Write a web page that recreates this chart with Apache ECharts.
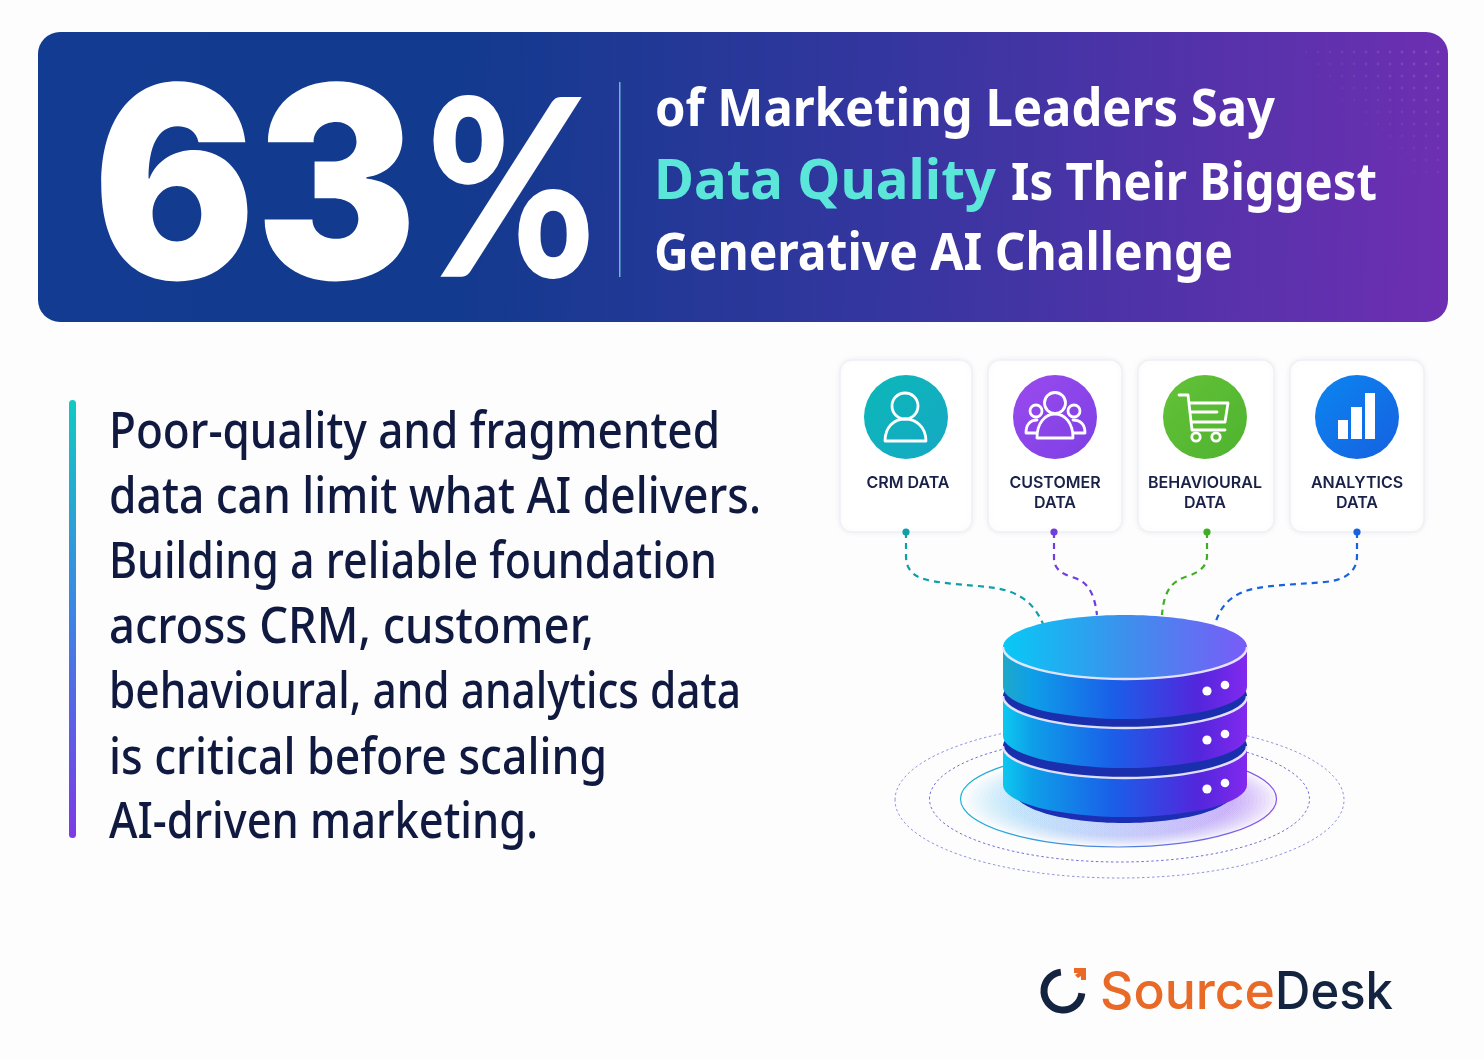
<!DOCTYPE html>
<html>
<head>
<meta charset="utf-8">
<title>Data Quality</title>
<style>
html,body{margin:0;padding:0;background:#fdfdfe;}
#main{width:1484px;height:1060px;}
</style>
<script src="https://cdn.jsdelivr.net/npm/echarts@6/dist/echarts.min.js"></script>
</head>
<body>
<div id="main"></div>
<script>
var statValue = 63;
var statUnit = '%';
var headlineTop = 'of Marketing Leaders Say';
var headlineAccent = 'Data Quality';
var headlineMiddle = 'Is Their Biggest';
var headlineBottom = 'Generative AI Challenge';
var bodyLines = [
    'Poor-quality and fragmented',
    'data can limit what AI delivers.',
    'Building a reliable foundation',
    'across CRM, customer,',
    'behavioural, and analytics data',
    'is critical before scaling',
    'AI-driven marketing.'
];
var sourceNames = [['CRM DATA'], ['CUSTOMER', 'DATA'], ['BEHAVIOURAL', 'DATA'], ['ANALYTICS', 'DATA']];
var logoLeft = 'Source';
var logoRight = 'Desk';

var NAVY = '#10193f';
var grad = echarts.graphic.LinearGradient;
var els = [];
var measure = document.createElement('canvas').getContext('2d');
var pathCount = 0;
var ascent = {'Inter': 0.79, 'Noto Sans': 0.83, 'Lato': 0.83};

// text squeezed to the width it has in the picture, base is the baseline
function fit(str, x, base, width, size, weight, family, fill) {
    var font = weight + ' ' + size + 'px "' + family + '"';
    measure.font = font;
    var sx = width / measure.measureText(str).width;
    els.push({
        type: 'text', x: x, y: base - size * ascent[family], scaleX: sx,
        style: {text: str, font: font, fill: fill}
    });
}
function centered(str, cx, base, size, weight, family, fill) {
    els.push({
        type: 'text', x: cx, y: base - size * ascent[family],
        style: {text: str, font: weight + ' ' + size + 'px "' + family + '"', fill: fill, align: 'center'}
    });
}
// graphic has no plain path type, so every svg path gets its own shape
function path(d, style) {
    var name = 'sketchPath' + (pathCount++);
    echarts.graphic.registerShape(name, echarts.graphic.extendPath(d));
    els.push({type: name, style: style});
}

/* banner */
els.push({
    type: 'rect', shape: {x: 38, y: 32, width: 1410, height: 290, r: 22},
    style: {fill: new grad(0, 0, 1, 0.2, [
        {offset: 0, color: '#123c92'},
        {offset: 0.3, color: '#123a8e'},
        {offset: 0.6, color: '#34369f'},
        {offset: 1, color: '#6d2fb2'}
    ])}
});
for (var dx = 0; dx < 12; dx++) {
    for (var dy = 0; dy < 11; dy++) {
        els.push({
            type: 'circle', shape: {cx: 1438 - dx * 12, cy: 52 + dy * 12, r: 1.4},
            style: {fill: 'rgba(255,255,255,' + (0.16 - dx * 0.011 - dy * 0.011) + ')'}
        });
    }
}
fit(String(statValue), 93, 276, 324, 268, 900, 'Inter', '#ffffff');
fit(statUnit, 426, 279, 170, 248, 900, 'Lato', '#ffffff');
els.push({type: 'rect', shape: {x: 619, y: 82, width: 1.5, height: 195}, style: {fill: 'rgba(130,230,230,0.75)'}});
fit(headlineTop, 655, 128, 620, 52, 700, 'Noto Sans', '#ffffff');
fit(headlineAccent, 654, 202, 342, 56, 700, 'Noto Sans', '#5ce6da');
fit(headlineMiddle, 1011, 202, 366, 52, 700, 'Noto Sans', '#ffffff');
fit(headlineBottom, 654, 272, 579, 52, 700, 'Noto Sans', '#ffffff');

/* left text */
els.push({
    type: 'rect', shape: {x: 69, y: 400, width: 7, height: 438, r: 3.5},
    style: {fill: new grad(0, 0, 0, 1, [
        {offset: 0, color: '#12c9c3'},
        {offset: 0.5, color: '#3f83e4'},
        {offset: 1, color: '#7c3ae6'}
    ])}
});
var bodyBase = [450, 515, 580, 645, 710, 776, 840];
var bodyWidth = [611, 652, 608, 485, 632, 498, 429];
bodyLines.forEach(function (line, i) {
    fit(line, 109, bodyBase[i], bodyWidth[i], 50, 500, 'Noto Sans', NAVY);
});

/* source cards */
var cardBox = [[840, 132], [988, 134], [1138, 136], [1290, 134]];
var cardCx = [906, 1055, 1205, 1357];
var cardFill = [
    ['#0bb8b8', '#16a8c4'],
    ['#9a4bee', '#7d3fe4'],
    ['#63c238', '#4fb32f'],
    ['#0b86f0', '#1660e0']
];
var dotColor = ['#0f9fa8', '#6f3fdc', '#3fae22', '#1763de'];
cardBox.forEach(function (b, i) {
    els.push({
        type: 'rect', shape: {x: b[0], y: 360, width: b[1], height: 172, r: 12},
        style: {fill: '#ffffff', stroke: '#eef0f4', lineWidth: 1.5, shadowColor: 'rgba(40,50,90,0.06)', shadowBlur: 6}
    });
    els.push({
        type: 'circle', shape: {cx: cardCx[i], cy: 417, r: 42},
        style: {fill: new grad(0, 0, 1, 1, [{offset: 0, color: cardFill[i][0]}, {offset: 1, color: cardFill[i][1]}])}
    });
    sourceNames[i].forEach(function (t, k) {
        centered(t, cardCx[i] + (i == 0 ? 2 : 0), 488 + k * 20, 16, 600, 'Inter', '#1a2148');
    });
});

/* card icons */
var icon = {fill: 'none', stroke: '#ffffff', lineWidth: 2.8, lineJoin: 'round', lineCap: 'round'};
els.push({type: 'circle', shape: {cx: 905, cy: 406, r: 13}, style: icon});
path('M885 441 C885 427 894 419 905 419 C916 419 926 427 926 441 Z', icon);
els.push({type: 'circle', shape: {cx: 1055, cy: 403, r: 10.5}, style: icon});
path('M1037 438 C1037 423 1045 414 1055 414 C1065 414 1073 423 1073 438 Z', icon);
els.push({type: 'circle', shape: {cx: 1036, cy: 411, r: 6}, style: icon});
els.push({type: 'circle', shape: {cx: 1074, cy: 411, r: 6}, style: icon});
path('M1036 433 L1026 433 C1026 425 1030 420 1037 420', icon);
path('M1074 433 L1085 433 C1085 425 1081 420 1073 420', icon);
path('M1179 395 L1188 395 L1192 430 L1225 430 M1189 403 L1228 403 L1225 422 L1191 422 M1190 412 L1217 412', icon);
els.push({type: 'circle', shape: {cx: 1196, cy: 437, r: 4.2}, style: icon});
els.push({type: 'circle', shape: {cx: 1216, cy: 437, r: 4.2}, style: icon});
els.push({type: 'rect', shape: {x: 1338, y: 420, width: 10, height: 19}, style: {fill: '#ffffff'}});
els.push({type: 'rect', shape: {x: 1351, y: 407, width: 11, height: 32}, style: {fill: '#ffffff'}});
els.push({type: 'rect', shape: {x: 1365, y: 393, width: 10, height: 46}, style: {fill: '#ffffff'}});

/* dashed links */
var links = [
    'M906 532 L906 556 C906 572 916 578 932 581 C960 586 990 585 1008 591 C1026 597 1036 608 1043 624',
    'M1054 532 L1054 558 C1054 568 1060 573 1072 577 C1086 581 1094 590 1097 615',
    'M1207 532 L1207 556 C1207 566 1200 572 1188 576 C1172 581 1164 590 1162 615',
    'M1357 532 L1357 556 C1357 572 1345 580 1325 582 C1290 585 1260 585 1243 592 C1228 598 1220 608 1215 624'
];
links.forEach(function (d, i) {
    path(d, {fill: 'none', stroke: dotColor[i], lineWidth: 2.2, lineDash: [6, 5]});
    els.push({type: 'circle', shape: {cx: [906, 1054, 1207, 1357][i], cy: 532, r: 3.6}, style: {fill: dotColor[i]}});
});

/* database and its rings */
// soft glow on the floor, many faint ellipses on top of each other
for (var g = 0; g < 12; g++) {
    els.push({
        type: 'ellipse', shape: {cx: 1122, cy: 800, rx: 156 - g * 4, ry: 47 - g * 1},
        style: {fill: new grad(0, 0, 1, 0, [
            {offset: 0, color: 'rgba(110,205,245,0.045)'},
            {offset: 1, color: 'rgba(160,100,245,0.06)'}
        ])}
    });
}
els.push({type: 'ellipse', shape: {cx: 1119.5, cy: 800, rx: 224.5, ry: 78}, style: {fill: 'none', stroke: '#8f95e0', lineWidth: 1, lineDash: [2.5, 2.5]}});
els.push({type: 'ellipse', shape: {cx: 1119.5, cy: 799, rx: 190, ry: 63}, style: {fill: 'none', stroke: '#6f72d8', lineWidth: 1, lineDash: [2.5, 2.5]}});
els.push({
    type: 'ellipse', shape: {cx: 1118.5, cy: 799, rx: 158, ry: 48},
    style: {fill: 'none', lineWidth: 1.2, stroke: new grad(0, 0, 1, 0, [{offset: 0, color: '#18b4d8'}, {offset: 1, color: '#8a50e8'}])}
});
els.push({type: 'ellipse', shape: {cx: 1124, cy: 791, rx: 110, ry: 32}, style: {fill: '#1c2fb4'}});

function side(first) {
    return new grad(0, 0, 1, 0, [
        {offset: 0, color: first},
        {offset: 0.12, color: '#0e9fe8'},
        {offset: 0.45, color: '#1a5fe8'},
        {offset: 0.8, color: '#5326dc'},
        {offset: 1, color: '#8229ee'}
    ]);
}
// drawn bottom up so every layer hides the one under it
var layerTop = [746, 696, 647];
var layerBottom = [785, 736, 687];
var layerFirst = ['#0cc8f0', '#0cc8f0', '#1fa8c8'];
var layerDots = [[789, 783], [740, 734], [691, 685]];
for (var n = 0; n < 3; n++) {
    var t = layerTop[n], bt = layerBottom[n];
    path('M1003 ' + t + ' A122 32 0 0 0 1247 ' + t + ' L1247 ' + bt + ' A122 32 0 0 1 1003 ' + bt + ' Z', {fill: side(layerFirst[n])});
    els.push({
        type: 'ellipse', shape: {cx: 1125, cy: t, rx: 122, ry: 32},
        style: {fill: n == 2 ? new grad(0, 0, 1, 0, [
            {offset: 0, color: '#08c9f6'},
            {offset: 0.5, color: '#3c90ec'},
            {offset: 1, color: '#7a5bf8'}
        ]) : '#1a2fae'}
    });
    path('M1003 ' + t + ' A122 32 0 0 0 1247 ' + t, {fill: 'none', stroke: 'rgba(235,232,255,0.95)', lineWidth: 2.4});
    els.push({type: 'circle', shape: {cx: 1207, cy: layerDots[n][0], r: 4.6}, style: {fill: '#ffffff'}});
    els.push({type: 'circle', shape: {cx: 1225, cy: layerDots[n][1], r: 4.3}, style: {fill: '#ffffff'}});
}

/* logo */
els.push({
    type: 'arc', shape: {cx: 1063, cy: 991, r: 19, startAngle: 0.12, endAngle: 4.6, clockwise: true},
    style: {fill: 'none', stroke: '#14233f', lineWidth: 7}
});
path('M1074 968 L1086 968 L1086 980 L1081 980 L1081 976 L1078 978 L1075 975 L1078 973 L1074 973 Z', {fill: '#ea6a25'});
fit(logoLeft, 1100, 1008, 175, 52, 500, 'Inter', '#e96a26');
fit(logoRight, 1275, 1008, 118, 52, 500, 'Inter', '#14233f');

var myChart = echarts.init(document.getElementById('main'));
myChart.setOption({
    backgroundColor: '#fdfdfe',
    animation: false,
    graphic: {elements: els}
});
</script>
</body>
</html>
